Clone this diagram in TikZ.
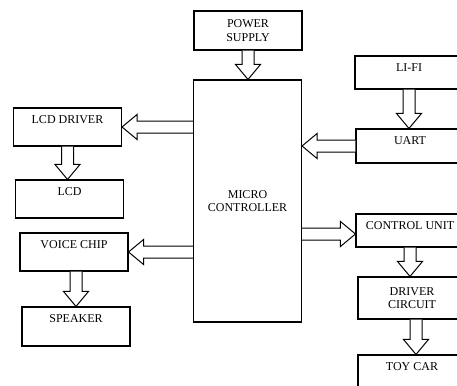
\documentclass[tikz,border=0pt]{standalone}
\usepackage{fontspec}
\setmainfont{Liberation Serif}
\usetikzlibrary{calc}

% hollow block arrow from #1 to #2
\newcommand{\fatarrow}[2]{%
  \draw[arrowline] let \p1=(#1), \p2=(#2),
      \n1={atan2(\y2-\y1,\x2-\x1)}, \n2={veclen(\x2-\x1,\y2-\y1)} in
    {[shift={(\p1)}, rotate=\n1]
      (0pt,6pt) -- ({\n2*1pt-15pt},6pt) -- ({\n2*1pt-15pt},12.5pt)
      -- ({\n2*1pt},0pt) -- ({\n2*1pt-15pt},-12.5pt)
      -- ({\n2*1pt-15pt},-6pt) -- (0pt,-6pt)};
}

\begin{document}
\begin{tikzpicture}[
    x=1pt, y=-1pt,
    font=\fontsize{12}{13.5}\selectfont,
    block/.style={
        draw,
        rectangle,
        line width=1.1pt,
        minimum width=108pt,
        align=center
    },
    topblock/.style={
        block,
        text height=8pt,
        inner ysep=7.5pt,
        text depth=#1
    },
    arrowline/.style={line width=1pt, line join=miter, fill=white}
]
    \useasboundingbox (0,0) rectangle (457,385);
    \clip (0,0) rectangle (457,385);

    % Centro
    \node [block, minimum height=242pt] (mc) at (247.5,201) {MICRO\\CONTROLLER};
    \node [block, minimum height=39pt] (pwr) at (248,30.5) {POWER\\SUPPLY};

    % Lado esquerdo
    \node [topblock=15pt] (lcddrv) at (67.5,127) {LCD DRIVER};
    \node [topblock=15pt] (lcd) at (69.5,199) {LCD};
    \node [topblock=15pt] (voice) at (74,252) {VOICE CHIP};
    \node [topblock=16pt] (spk) at (76,326.5) {SPEAKER};

    % Lado direito
    \node [topblock=10pt] (lifi) at (409,72.5) {LI-FI};
    \node [topblock=11pt] (uart) at (410,146) {UART};
    \node [topblock=10pt] (ctrl) at (410,230.5) {CONTROL UNIT};
    \node [block, minimum height=42pt] (drv) at (412,298) {DRIVER\\CIRCUIT};
    \node [topblock=17pt] (toy) at (412,375) {TOY CAR};

    % Setas
    \fatarrow{pwr.south}{pwr.south |- mc.north}
    \fatarrow{mc.west |- lcddrv.east}{lcddrv.east}
    \fatarrow{lcddrv.south}{lcddrv.south |- lcd.north}
    \fatarrow{mc.west |- voice.east}{voice.east}
    \fatarrow{spk.north |- voice.south}{spk.north}
    \fatarrow{lifi.south}{lifi.south |- uart.north}
    \fatarrow{uart.west}{uart.west -| mc.east}
    \fatarrow{$(mc.east |- ctrl.west)+(0,3.5)$}{$(ctrl.west)+(0,3.5)$}
    \fatarrow{ctrl.south}{ctrl.south |- drv.north}
    \fatarrow{$(drv.south)+(4,0)$}{$(drv.south |- toy.north)+(4,0)$}
\end{tikzpicture}
\end{document}
